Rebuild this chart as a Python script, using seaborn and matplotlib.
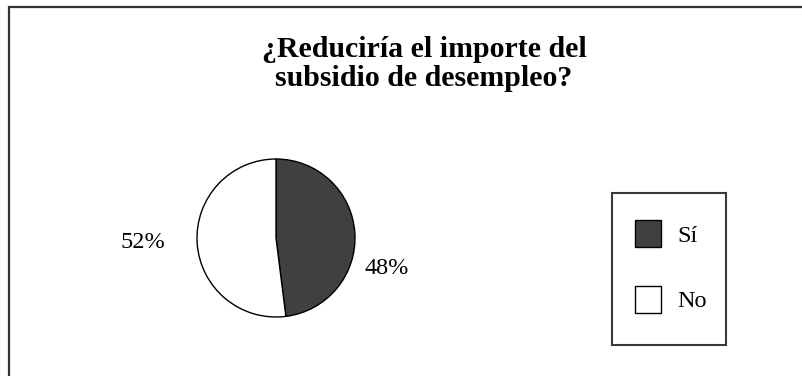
"""
Gráfico de tarta: ¿Reduciría el importe del subsidio de desempleo?
"""

import matplotlib
matplotlib.use("Agg")
import matplotlib.pyplot as plt
from matplotlib.patches import Rectangle
import seaborn as sns

# datos
categorias = ["Sí", "No"]
valores = [48, 52]
colores = ["#404040", "#ffffff"]
titulo = "¿Reduciría el importe del\nsubsidio de desempleo?"

sns.set_theme(style="white")
plt.rcParams["font.family"] = ["Liberation Serif", "DejaVu Serif"]
plt.rcParams["text.color"] = "black"

W, H = 803, 376
fig = plt.figure(figsize=(W / 100, H / 100), dpi=100)
fig.patch.set_facecolor("white")

# ejes de la tarta: centro (276, 238) px, radio 79 px
cx, cy, r = 276, 238, 79
ax = fig.add_axes([(cx - r) / W, (H - cy - r) / H, 2 * r / W, 2 * r / H])
wedges, _ = ax.pie(
    valores,
    colors=colores,
    startangle=90,
    counterclock=False,
    wedgeprops=dict(edgecolor="black", linewidth=1.0),
)
ax.set_xlim(-1, 1)
ax.set_ylim(-1, 1)
ax.set_aspect("equal")
ax.axis("off")

# etiquetas de porcentaje
etiquetas = [f"{v}%" for v in valores]
pos_etiquetas = [(387, 269), (143, 243)]
for txt, (px, py) in zip(etiquetas, pos_etiquetas):
    fig.text(px / W, 1 - py / H, txt, ha="center", va="center", fontsize=17.5)

# título
fig.text(424 / W, 1 - 64 / H, titulo, ha="center", va="center",
         fontsize=21.5, fontweight="bold", linespacing=1.1,
         multialignment="center")

# leyenda (sin marco; el marco se dibuja aparte)
leg = fig.legend(
    wedges, categorias,
    loc="upper left",
    bbox_to_anchor=(635 / W, 1 - 220 / H),
    bbox_transform=fig.transFigure,
    borderaxespad=0,
    borderpad=0,
    fontsize=17.5,
    frameon=False,
    handlelength=1.07,
    handleheight=1.33,
    labelspacing=1.6,
    handletextpad=0.66,
)

# marco de la leyenda
fig.add_artist(Rectangle((612 / W, 1 - 345 / H), 114 / W, 152 / H,
                         transform=fig.transFigure, fill=False,
                         edgecolor="#3a3a3a", linewidth=1.5))

# marco exterior (sólo se ven los bordes superior e izquierdo)
fig.add_artist(Rectangle((9 / W, -0.2), 1.2, 1 - 7 / H + 0.2,
                         transform=fig.transFigure, fill=False,
                         edgecolor="#333333", linewidth=1.6))

fig.savefig("out.png", dpi=100)
